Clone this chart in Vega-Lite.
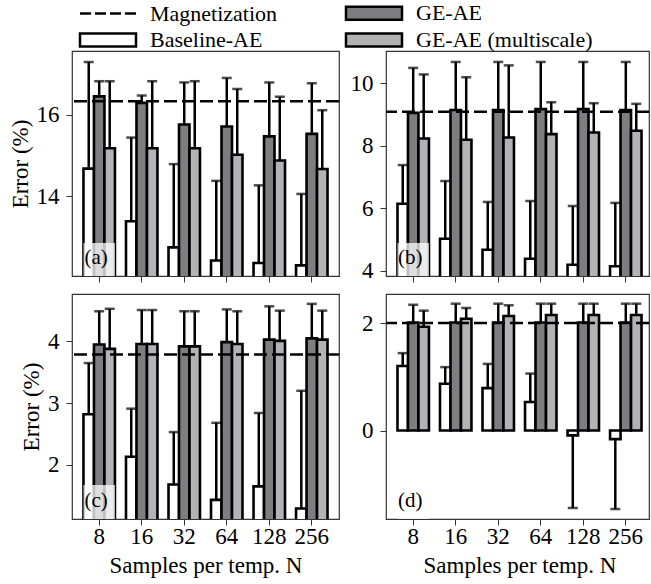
{
  "$schema": "https://vega.github.io/schema/vega-lite/v6.json",
  "padding": {"left": 8, "top": 2, "right": 0, "bottom": 0},
  "datasets": {
    "bars": [
      {"panel": "a", "N": "8", "method": "Baseline-AE", "value": 14.68, "err": 17.29},
      {"panel": "a", "N": "8", "method": "GE-AE", "value": 16.45, "err": 16.82},
      {"panel": "a", "N": "8", "method": "GE-AE (multiscale)", "value": 15.18, "err": 16.82},
      {"panel": "a", "N": "16", "method": "Baseline-AE", "value": 13.39, "err": 15.44},
      {"panel": "a", "N": "16", "method": "GE-AE", "value": 16.29, "err": 16.47},
      {"panel": "a", "N": "16", "method": "GE-AE (multiscale)", "value": 15.18, "err": 16.82},
      {"panel": "a", "N": "32", "method": "Baseline-AE", "value": 12.75, "err": 14.79},
      {"panel": "a", "N": "32", "method": "GE-AE", "value": 15.76, "err": 16.79},
      {"panel": "a", "N": "32", "method": "GE-AE (multiscale)", "value": 15.18, "err": 16.82},
      {"panel": "a", "N": "64", "method": "Baseline-AE", "value": 12.43, "err": 14.38},
      {"panel": "a", "N": "64", "method": "GE-AE", "value": 15.71, "err": 16.9},
      {"panel": "a", "N": "64", "method": "GE-AE (multiscale)", "value": 15.02, "err": 16.63},
      {"panel": "a", "N": "128", "method": "Baseline-AE", "value": 12.37, "err": 14.27},
      {"panel": "a", "N": "128", "method": "GE-AE", "value": 15.47, "err": 16.79},
      {"panel": "a", "N": "128", "method": "GE-AE (multiscale)", "value": 14.88, "err": 16.44},
      {"panel": "a", "N": "256", "method": "Baseline-AE", "value": 12.31, "err": 14.06},
      {"panel": "a", "N": "256", "method": "GE-AE", "value": 15.53, "err": 16.77},
      {"panel": "a", "N": "256", "method": "GE-AE (multiscale)", "value": 14.67, "err": 16.11},

      {"panel": "b", "N": "8", "method": "Baseline-AE", "value": 6.14, "err": 7.38},
      {"panel": "b", "N": "8", "method": "GE-AE", "value": 9.05, "err": 10.49},
      {"panel": "b", "N": "8", "method": "GE-AE (multiscale)", "value": 8.23, "err": 10.28},
      {"panel": "b", "N": "16", "method": "Baseline-AE", "value": 5.02, "err": 6.87},
      {"panel": "b", "N": "16", "method": "GE-AE", "value": 9.14, "err": 10.68},
      {"panel": "b", "N": "16", "method": "GE-AE (multiscale)", "value": 8.19, "err": 10.19},
      {"panel": "b", "N": "32", "method": "Baseline-AE", "value": 4.67, "err": 6.2},
      {"panel": "b", "N": "32", "method": "GE-AE", "value": 9.14, "err": 10.68},
      {"panel": "b", "N": "32", "method": "GE-AE (multiscale)", "value": 8.26, "err": 10.57},
      {"panel": "b", "N": "64", "method": "Baseline-AE", "value": 4.38, "err": 6.23},
      {"panel": "b", "N": "64", "method": "GE-AE", "value": 9.17, "err": 10.68},
      {"panel": "b", "N": "64", "method": "GE-AE (multiscale)", "value": 8.37, "err": 9.39},
      {"panel": "b", "N": "128", "method": "Baseline-AE", "value": 4.19, "err": 6.07},
      {"panel": "b", "N": "128", "method": "GE-AE", "value": 9.17, "err": 10.68},
      {"panel": "b", "N": "128", "method": "GE-AE (multiscale)", "value": 8.42, "err": 9.36},
      {"panel": "b", "N": "256", "method": "Baseline-AE", "value": 4.14, "err": 6.17},
      {"panel": "b", "N": "256", "method": "GE-AE", "value": 9.14, "err": 10.68},
      {"panel": "b", "N": "256", "method": "GE-AE (multiscale)", "value": 8.48, "err": 9.34},

      {"panel": "c", "N": "8", "method": "Baseline-AE", "value": 2.82, "err": 3.65},
      {"panel": "c", "N": "8", "method": "GE-AE", "value": 3.95, "err": 4.49},
      {"panel": "c", "N": "8", "method": "GE-AE (multiscale)", "value": 3.88, "err": 4.53},
      {"panel": "c", "N": "16", "method": "Baseline-AE", "value": 2.13, "err": 2.91},
      {"panel": "c", "N": "16", "method": "GE-AE", "value": 3.96, "err": 4.51},
      {"panel": "c", "N": "16", "method": "GE-AE (multiscale)", "value": 3.96, "err": 4.51},
      {"panel": "c", "N": "32", "method": "Baseline-AE", "value": 1.68, "err": 2.53},
      {"panel": "c", "N": "32", "method": "GE-AE", "value": 3.92, "err": 4.49},
      {"panel": "c", "N": "32", "method": "GE-AE (multiscale)", "value": 3.92, "err": 4.49},
      {"panel": "c", "N": "64", "method": "Baseline-AE", "value": 1.43, "err": 2.68},
      {"panel": "c", "N": "64", "method": "GE-AE", "value": 3.99, "err": 4.52},
      {"panel": "c", "N": "64", "method": "GE-AE (multiscale)", "value": 3.96, "err": 4.49},
      {"panel": "c", "N": "128", "method": "Baseline-AE", "value": 1.65, "err": 2.84},
      {"panel": "c", "N": "128", "method": "GE-AE", "value": 4.03, "err": 4.57},
      {"panel": "c", "N": "128", "method": "GE-AE (multiscale)", "value": 4.01, "err": 4.5},
      {"panel": "c", "N": "256", "method": "Baseline-AE", "value": 1.29, "err": 3.2},
      {"panel": "c", "N": "256", "method": "GE-AE", "value": 4.05, "err": 4.61},
      {"panel": "c", "N": "256", "method": "GE-AE (multiscale)", "value": 4.03, "err": 4.5},

      {"panel": "d", "N": "8", "method": "Baseline-AE", "value": 1.2, "err": 1.44},
      {"panel": "d", "N": "8", "method": "GE-AE", "value": 2.01, "err": 2.34},
      {"panel": "d", "N": "8", "method": "GE-AE (multiscale)", "value": 1.93, "err": 2.23},
      {"panel": "d", "N": "16", "method": "Baseline-AE", "value": 0.87, "err": 1.18},
      {"panel": "d", "N": "16", "method": "GE-AE", "value": 2.01, "err": 2.36},
      {"panel": "d", "N": "16", "method": "GE-AE (multiscale)", "value": 2.08, "err": 2.28},
      {"panel": "d", "N": "32", "method": "Baseline-AE", "value": 0.79, "err": 1.24},
      {"panel": "d", "N": "32", "method": "GE-AE", "value": 2.01, "err": 2.36},
      {"panel": "d", "N": "32", "method": "GE-AE (multiscale)", "value": 2.13, "err": 2.33},
      {"panel": "d", "N": "64", "method": "Baseline-AE", "value": 0.53, "err": 1.06},
      {"panel": "d", "N": "64", "method": "GE-AE", "value": 2.01, "err": 2.36},
      {"panel": "d", "N": "64", "method": "GE-AE (multiscale)", "value": 2.15, "err": 2.36},
      {"panel": "d", "N": "128", "method": "Baseline-AE", "value": -0.09, "err": -1.44},
      {"panel": "d", "N": "128", "method": "GE-AE", "value": 2.01, "err": 2.36},
      {"panel": "d", "N": "128", "method": "GE-AE (multiscale)", "value": 2.15, "err": 2.36},
      {"panel": "d", "N": "256", "method": "Baseline-AE", "value": -0.16, "err": -1.46},
      {"panel": "d", "N": "256", "method": "GE-AE", "value": 2.01, "err": 2.36},
      {"panel": "d", "N": "256", "method": "GE-AE (multiscale)", "value": 2.15, "err": 2.36}
    ],
    "panels": [
      {"panel": "a", "label": "(a)", "mag": 16.33},
      {"panel": "b", "label": "(b)", "mag": 9.09},
      {"panel": "c", "label": "(c)", "mag": 3.79},
      {"panel": "d", "label": "(d)", "mag": 2.0}
    ]
  },
  "columns": 2,
  "spacing": {"row": 18, "column": 47},
  "bounds": "flush",
  "resolve": {"scale": {"x": "independent", "y": "independent", "xOffset": "independent", "fill": "shared"}, "legend": {"fill": "shared"}},
  "concat": [
    {
      "width": 267, "height": 225,
      "layer": [
        {"data": {"name": "bars"}, "transform": [{"filter": "datum.panel === 'a'"}],
         "mark": {"type": "bar", "stroke": "black", "strokeWidth": 2.6, "clip": true},
         "encoding": {
           "x": {"field": "N", "type": "nominal", "scale": {"domain": ["8","16","32","64","128","256"], "paddingInner": 0.26, "paddingOuter": 0.27}, "axis": {"title": null, "labels": false}},
           "xOffset": {"field": "method", "type": "nominal", "scale": {"domain": ["Baseline-AE","GE-AE","GE-AE (multiscale)"], "paddingInner": 0, "paddingOuter": 0}},
           "y": {"field": "value", "type": "quantitative", "scale": {"domain": [12.05, 17.56], "nice": false, "zero": false}, "axis": {"title": "Error (%)", "values": [14, 16], "format": "d"}},
           "y2": {"datum": 0},
           "fill": {"field": "method", "type": "nominal", "scale": {"domain": ["Magnetization","GE-AE","Baseline-AE","GE-AE (multiscale)"], "range": ["transparent","#7e7e80","white","#b3b3b6"]},
             "legend": {"title": null, "orient": "none", "legendX": 4, "legendY": -49, "direction": "horizontal", "columns": 2, "columnPadding": 63, "rowPadding": 3, "labelOffset": 52, "padding": 0, "labelLimit": 400, "labelFont": "Liberation Serif, Times New Roman, serif", "labelFontSize": 22, "labelColor": "black", "symbolSize": 196, "symbolStrokeWidth": 2.5, "symbolStrokeColor": "black",
               "encode": {"symbols": {"update": {
                 "shape": [{"test": "datum.value === 'Magnetization'", "value": "M-1,0L7,0"}, {"value": "M-1,-0.93L7,-0.93L7,0.93L-1,0.93Z"}],
                 "strokeDash": [{"test": "datum.value === 'Magnetization'", "value": [11, 4]}, {"value": []}],
                 "stroke": {"value": "black"},
                 "strokeWidth": {"value": 2.5}
               }}}}}
         }},
        {"data": {"name": "bars"}, "transform": [{"filter": "datum.panel === 'a'"}],
         "mark": {"type": "rule", "stroke": "black", "strokeWidth": 2.5, "clip": true},
         "encoding": {"x": {"field": "N", "type": "nominal"}, "xOffset": {"field": "method", "type": "nominal"}, "y": {"field": "value", "type": "quantitative"}, "y2": {"field": "err"}}},
        {"data": {"name": "bars"}, "transform": [{"filter": "datum.panel === 'a'"}],
         "mark": {"type": "tick", "color": "black", "thickness": 2.5, "size": 10, "orient": "horizontal", "clip": true},
         "encoding": {"x": {"field": "N", "type": "nominal"}, "xOffset": {"field": "method", "type": "nominal"}, "y": {"field": "err", "type": "quantitative"}}},
        {"data": {"name": "panels"}, "transform": [{"filter": "datum.panel === 'a'"}],
         "mark": {"type": "rule", "stroke": "black", "strokeWidth": 2.5, "strokeDash": [13, 5]},
         "encoding": {"y": {"field": "mag", "type": "quantitative"}}},
        {"data": {"name": "panels"}, "transform": [{"filter": "datum.panel === 'a'"}],
         "mark": {"type": "rect", "fill": "white", "opacity": 0.75},
         "encoding": {"x": {"datum": "8", "type": "nominal"}, "y": {"datum": 12.05, "type": "quantitative"}, "y2": {"datum": 12.86}}},
        {"data": {"name": "panels"}, "transform": [{"filter": "datum.panel === 'a'"}],
         "mark": {"type": "text", "font": "Liberation Serif, Times New Roman, serif", "fontSize": 21, "color": "black", "baseline": "alphabetic", "dy": -12, "dx": -3},
         "encoding": {"x": {"datum": "8", "type": "nominal"}, "y": {"datum": 12.05, "type": "quantitative"}, "text": {"field": "label"}}}
      ]
    },
    {
      "width": 263, "height": 225,
      "layer": [
        {"data": {"name": "bars"}, "transform": [{"filter": "datum.panel === 'b'"}],
         "mark": {"type": "bar", "stroke": "black", "strokeWidth": 2.6, "clip": true},
         "encoding": {
           "x": {"field": "N", "type": "nominal", "scale": {"domain": ["8","16","32","64","128","256"], "paddingInner": 0.26, "paddingOuter": 0.27, "range": [0, 267]}, "axis": {"title": null, "labels": false}},
           "xOffset": {"field": "method", "type": "nominal", "scale": {"domain": ["Baseline-AE","GE-AE","GE-AE (multiscale)"], "paddingInner": 0, "paddingOuter": 0}},
           "y": {"field": "value", "type": "quantitative", "scale": {"domain": [3.83, 11.03], "nice": false, "zero": false}, "axis": {"title": null, "values": [4, 6, 8, 10], "format": "d"}},
           "y2": {"datum": 0},
           "fill": {"field": "method", "type": "nominal", "scale": {"domain": ["Magnetization","GE-AE","Baseline-AE","GE-AE (multiscale)"], "range": ["transparent","#7e7e80","white","#b3b3b6"]}}
         }},
        {"data": {"name": "bars"}, "transform": [{"filter": "datum.panel === 'b'"}],
         "mark": {"type": "rule", "stroke": "black", "strokeWidth": 2.5, "clip": true},
         "encoding": {"x": {"field": "N", "type": "nominal"}, "xOffset": {"field": "method", "type": "nominal"}, "y": {"field": "value", "type": "quantitative"}, "y2": {"field": "err"}}},
        {"data": {"name": "bars"}, "transform": [{"filter": "datum.panel === 'b'"}],
         "mark": {"type": "tick", "color": "black", "thickness": 2.5, "size": 10, "orient": "horizontal", "clip": true},
         "encoding": {"x": {"field": "N", "type": "nominal"}, "xOffset": {"field": "method", "type": "nominal"}, "y": {"field": "err", "type": "quantitative"}}},
        {"data": {"name": "panels"}, "transform": [{"filter": "datum.panel === 'b'"}],
         "mark": {"type": "rule", "stroke": "black", "strokeWidth": 2.5, "strokeDash": [13, 5]},
         "encoding": {"y": {"field": "mag", "type": "quantitative"}}},
        {"data": {"name": "panels"}, "transform": [{"filter": "datum.panel === 'b'"}],
         "mark": {"type": "rect", "fill": "white", "opacity": 0.75},
         "encoding": {"x": {"datum": "8", "type": "nominal"}, "y": {"datum": 3.83, "type": "quantitative"}, "y2": {"datum": 4.89}}},
        {"data": {"name": "panels"}, "transform": [{"filter": "datum.panel === 'b'"}],
         "mark": {"type": "text", "font": "Liberation Serif, Times New Roman, serif", "fontSize": 21, "color": "black", "baseline": "alphabetic", "dy": -12, "dx": -3},
         "encoding": {"x": {"datum": "8", "type": "nominal"}, "y": {"datum": 3.83, "type": "quantitative"}, "text": {"field": "label"}}}
      ]
    },
    {
      "width": 267, "height": 225,
      "layer": [
        {"data": {"name": "bars"}, "transform": [{"filter": "datum.panel === 'c'"}],
         "mark": {"type": "bar", "stroke": "black", "strokeWidth": 2.6, "clip": true},
         "encoding": {
           "x": {"field": "N", "type": "nominal", "scale": {"domain": ["8","16","32","64","128","256"], "paddingInner": 0.26, "paddingOuter": 0.27}, "axis": {"title": "Samples per temp. N"}},
           "xOffset": {"field": "method", "type": "nominal", "scale": {"domain": ["Baseline-AE","GE-AE","GE-AE (multiscale)"], "paddingInner": 0, "paddingOuter": 0}},
           "y": {"field": "value", "type": "quantitative", "scale": {"domain": [1.12, 4.77], "nice": false, "zero": false}, "axis": {"title": "Error (%)", "values": [2, 3, 4], "format": "d"}},
           "y2": {"datum": 0},
           "fill": {"field": "method", "type": "nominal", "scale": {"domain": ["Magnetization","GE-AE","Baseline-AE","GE-AE (multiscale)"], "range": ["transparent","#7e7e80","white","#b3b3b6"]}}
         }},
        {"data": {"name": "bars"}, "transform": [{"filter": "datum.panel === 'c'"}],
         "mark": {"type": "rule", "stroke": "black", "strokeWidth": 2.5, "clip": true},
         "encoding": {"x": {"field": "N", "type": "nominal"}, "xOffset": {"field": "method", "type": "nominal"}, "y": {"field": "value", "type": "quantitative"}, "y2": {"field": "err"}}},
        {"data": {"name": "bars"}, "transform": [{"filter": "datum.panel === 'c'"}],
         "mark": {"type": "tick", "color": "black", "thickness": 2.5, "size": 10, "orient": "horizontal", "clip": true},
         "encoding": {"x": {"field": "N", "type": "nominal"}, "xOffset": {"field": "method", "type": "nominal"}, "y": {"field": "err", "type": "quantitative"}}},
        {"data": {"name": "panels"}, "transform": [{"filter": "datum.panel === 'c'"}],
         "mark": {"type": "rule", "stroke": "black", "strokeWidth": 2.5, "strokeDash": [13, 5]},
         "encoding": {"y": {"field": "mag", "type": "quantitative"}}},
        {"data": {"name": "panels"}, "transform": [{"filter": "datum.panel === 'c'"}],
         "mark": {"type": "rect", "fill": "white", "opacity": 0.75},
         "encoding": {"x": {"datum": "8", "type": "nominal"}, "y": {"datum": 1.12, "type": "quantitative"}, "y2": {"datum": 1.67}}},
        {"data": {"name": "panels"}, "transform": [{"filter": "datum.panel === 'c'"}],
         "mark": {"type": "text", "font": "Liberation Serif, Times New Roman, serif", "fontSize": 21, "color": "black", "baseline": "alphabetic", "dy": -12, "dx": -3},
         "encoding": {"x": {"datum": "8", "type": "nominal"}, "y": {"datum": 1.12, "type": "quantitative"}, "text": {"field": "label"}}}
      ]
    },
    {
      "width": 263, "height": 225,
      "layer": [
        {"data": {"name": "bars"}, "transform": [{"filter": "datum.panel === 'd'"}],
         "mark": {"type": "bar", "stroke": "black", "strokeWidth": 2.6, "clip": true},
         "encoding": {
           "x": {"field": "N", "type": "nominal", "scale": {"domain": ["8","16","32","64","128","256"], "paddingInner": 0.26, "paddingOuter": 0.27, "range": [0, 267]}, "axis": {"title": "Samples per temp. N"}},
           "xOffset": {"field": "method", "type": "nominal", "scale": {"domain": ["Baseline-AE","GE-AE","GE-AE (multiscale)"], "paddingInner": 0, "paddingOuter": 0}},
           "y": {"field": "value", "type": "quantitative", "scale": {"domain": [-1.645, 2.54], "nice": false, "zero": false}, "axis": {"title": null, "values": [0, 2], "format": "d"}},
           "y2": {"datum": 0},
           "fill": {"field": "method", "type": "nominal", "scale": {"domain": ["Magnetization","GE-AE","Baseline-AE","GE-AE (multiscale)"], "range": ["transparent","#7e7e80","white","#b3b3b6"]}}
         }},
        {"data": {"name": "bars"}, "transform": [{"filter": "datum.panel === 'd'"}],
         "mark": {"type": "rule", "stroke": "black", "strokeWidth": 2.5, "clip": true},
         "encoding": {"x": {"field": "N", "type": "nominal"}, "xOffset": {"field": "method", "type": "nominal"}, "y": {"field": "value", "type": "quantitative"}, "y2": {"field": "err"}}},
        {"data": {"name": "bars"}, "transform": [{"filter": "datum.panel === 'd'"}],
         "mark": {"type": "tick", "color": "black", "thickness": 2.5, "size": 10, "orient": "horizontal", "clip": true},
         "encoding": {"x": {"field": "N", "type": "nominal"}, "xOffset": {"field": "method", "type": "nominal"}, "y": {"field": "err", "type": "quantitative"}}},
        {"data": {"name": "panels"}, "transform": [{"filter": "datum.panel === 'd'"}],
         "mark": {"type": "rule", "stroke": "black", "strokeWidth": 2.5, "strokeDash": [13, 5]},
         "encoding": {"y": {"field": "mag", "type": "quantitative"}}},
        {"data": {"name": "panels"}, "transform": [{"filter": "datum.panel === 'd'"}],
         "mark": {"type": "rect", "fill": "white", "opacity": 0.75},
         "encoding": {"x": {"datum": "8", "type": "nominal"}, "y": {"datum": -1.645, "type": "quantitative"}, "y2": {"datum": -1.03}}},
        {"data": {"name": "panels"}, "transform": [{"filter": "datum.panel === 'd'"}],
         "mark": {"type": "text", "font": "Liberation Serif, Times New Roman, serif", "fontSize": 21, "color": "black", "baseline": "alphabetic", "dy": -12, "dx": -3},
         "encoding": {"x": {"datum": "8", "type": "nominal"}, "y": {"datum": -1.645, "type": "quantitative"}, "text": {"field": "label"}}}
      ]
    }
  ],
  "config": {
    "view": {"stroke": "#333", "strokeWidth": 1.2},
    "axis": {"labelFont": "Liberation Serif, Times New Roman, serif", "titleFont": "Liberation Serif, Times New Roman, serif", "labelFontSize": 23, "titleFontSize": 23, "titleFontWeight": "normal", "labelColor": "black", "titleColor": "black", "domain": false, "tickColor": "#333", "tickSize": 6, "grid": false},
    "axisY": {"labelPadding": 7, "titlePadding": 4},
    "axisX": {"labelPadding": 0, "titlePadding": 6, "labelAngle": 0}
  }
}
